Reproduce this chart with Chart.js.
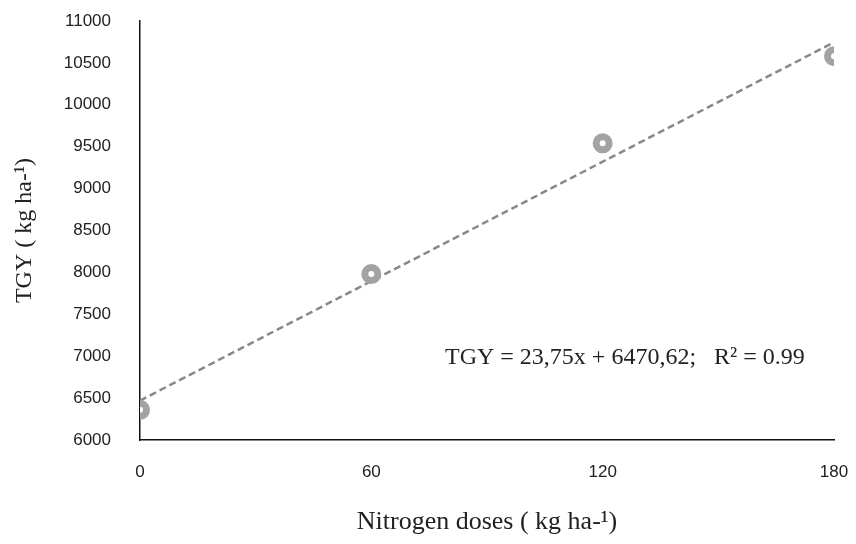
<!DOCTYPE html>
<html>
<head>
<meta charset="utf-8">
<script src="https://cdn.jsdelivr.net/npm/chart.js@4/dist/chart.umd.min.js"></script>
<style>
  html, body { margin: 0; padding: 0; background: #fff; }
  #wrap { width: 856px; height: 544px; }
</style>
</head>
<body>
<div id="wrap"><canvas id="chart"></canvas></div>
<script>
// Nitrogen doses (kg ha-1) and total grain yield (kg ha-1)
const doses = [0, 60, 120, 180];
const tgy = [6360, 7980, 9540, 10580];
const xTicks = [0, 60, 120, 180];

// fitted regression from the figure
const slope = 23.75;
const intercept = 6470.62;
const fitLabel = 'TGY = 23,75x + 6470,62;   R\u00B2 = 0.99';

const trend = [doses[0], doses[doses.length - 1]].map(x => ({ x: x, y: intercept + slope * x }));

// draws the equation inside the plot area
const equationText = {
  id: 'equationText',
  afterDatasetsDraw(chart) {
    const { ctx, chartArea } = chart;
    ctx.save();
    ctx.font = '24px "Liberation Serif", serif';
    ctx.fillStyle = '#222';
    ctx.textAlign = 'left';
    ctx.textBaseline = 'middle';
    ctx.fillText(fitLabel, chartArea.left + 305, chartArea.bottom - 82);
    ctx.restore();
  }
};

new Chart(document.getElementById('chart'), {
  type: 'scatter',
  data: {
    datasets: [
      {
        label: 'TGY',
        data: doses.map((d, i) => ({ x: d, y: tgy[i] })),
        showLine: false,
        pointRadius: 6.5,
        pointBorderWidth: 7,
        pointBackgroundColor: '#ffffff',
        pointBorderColor: '#a3a3a3',
        order: 0
      },
      {
        label: 'Linear',
        data: trend,
        showLine: true,
        borderColor: '#888888',
        borderWidth: 2.5,
        borderDash: [7, 4],
        pointRadius: 0,
        order: 1
      }
    ]
  },
  options: {
    responsive: true,
    maintainAspectRatio: false,
    animation: false,
    layout: { padding: { top: 21, right: 22, left: 0, bottom: 0 } },
    plugins: {
      legend: { display: false },
      tooltip: { enabled: false }
    },
    scales: {
      x: {
        type: 'linear',
        min: 0,
        max: 180,
        afterBuildTicks: (scale) => { scale.ticks = xTicks.map(v => ({ value: v })); },
        afterFit: (scale) => {
          scale.height = 104;
          scale.paddingLeft = 0;
          scale.paddingRight = 0;
        },
        grid: { display: false },
        border: { display: true, color: '#111', width: 1.5 },
        ticks: {
          color: '#222',
          padding: 14,
          font: { family: '"Liberation Sans", sans-serif', size: 17 }
        },
        title: {
          display: true,
          text: 'Nitrogen doses ( kg ha-\u00B9)',
          color: '#222',
          padding: { top: 0, bottom: 6 },
          font: { family: '"Liberation Serif", serif', size: 26 }
        }
      },
      y: {
        min: 6000,
        max: 11000,
        afterFit: (scale) => {
          scale.width = 140;
          scale.paddingTop = 0;
          scale.paddingBottom = 0;
        },
        grid: { display: false },
        border: { display: true, color: '#111', width: 1.5 },
        ticks: {
          stepSize: 500,
          color: '#222',
          padding: 21,
          callback: (v) => String(v),
          font: { family: '"Liberation Sans", sans-serif', size: 17 }
        },
        title: {
          display: true,
          text: 'TGY ( kg ha-\u00B9)',
          color: '#222',
          padding: { top: 10, bottom: 0 },
          font: { family: '"Liberation Serif", serif', size: 24 }
        }
      }
    }
  },
  plugins: [equationText]
});
</script>
</body>
</html>
